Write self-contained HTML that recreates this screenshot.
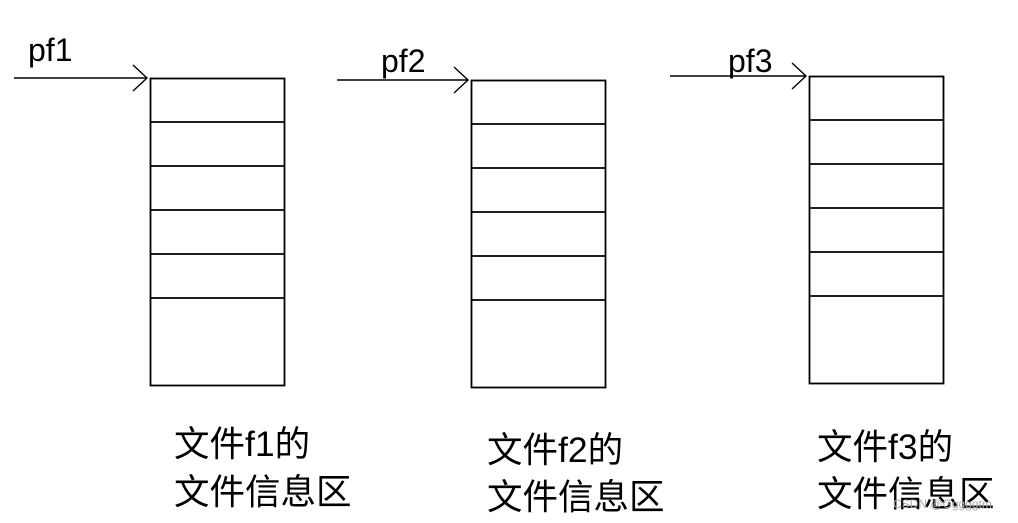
<!DOCTYPE html>
<html><head><meta charset="utf-8"><style>
html,body{margin:0;padding:0;background:#fff;width:1018px;height:523px;overflow:hidden}
text{font-family:"Liberation Sans","Noto Sans CJK SC",sans-serif;fill:#000}
</style></head><body>
<svg width="1018" height="523" viewBox="0 0 1018 523" xmlns="http://www.w3.org/2000/svg">
<g fill="none" stroke="#000" stroke-width="1.8">
<rect x="150.5" y="78.5" width="134" height="307"/>
<path d="M150 122H285M150 166H285M150 210H285M150 254H285M150 298H285"/>
<rect x="471.5" y="80.5" width="134" height="307"/>
<path d="M471 124H606M471 168H606M471 212H606M471 256H606M471 300H606"/>
<rect x="809.5" y="76.5" width="134" height="307"/>
<path d="M809 120H944M809 164H944M809 208H944M809 252H944M809 296H944"/>
</g>
<g fill="none" stroke="#000" stroke-width="1.4">
<path d="M14 78H147M133 65L147 78L133 91"/>
<path d="M337 80H468M454 67L468 80L454 93"/>
<path d="M670 76H806M792 63L806 76L792 89"/>
</g>
<text x="28" y="61" font-size="32">pf1</text>
<text x="381" y="72" font-size="32">pf2</text>
<text x="728" y="72" font-size="32">pf3</text>
<g font-size="35.5">
<text x="174" y="456">文件f1的</text>
<text x="174" y="504">文件信息区</text>
<text x="487" y="462">文件f2的</text>
<text x="487" y="509">文件信息区</text>
<text x="817" y="459">文件f3的</text>
<text x="817" y="506">文件信息区</text>
</g>
<text x="893" y="508" font-size="12" style="fill:#aaa">CSDN @Gggggtm</text>
</svg>
</body></html>
